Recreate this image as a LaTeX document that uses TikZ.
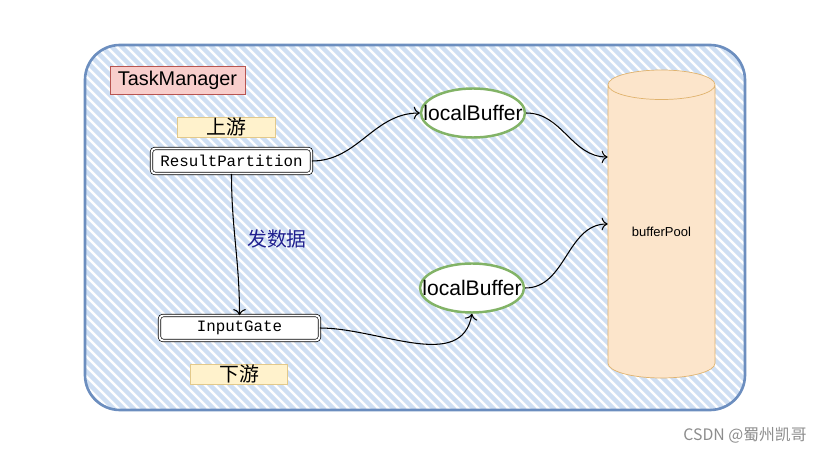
\documentclass[tikz,border=0pt]{standalone}
\usepackage{fontspec}
\setmainfont{Liberation Sans}
\setmonofont{Liberation Mono}
\newfontfamily\cjk{Noto Sans CJK SC}
\usepackage{tikz}
\usetikzlibrary{positioning}
\usetikzlibrary{arrows.meta}
\usetikzlibrary{shapes.geometric}

\definecolor{frameblue}{HTML}{6C8EBF}
\definecolor{hatchblue}{HTML}{CFDFF3}
\definecolor{tmred}{HTML}{B85450}
\definecolor{tmpink}{HTML}{F8CECC}
\definecolor{tagline}{HTML}{E3C98A}
\definecolor{tagfill}{HTML}{FFF2CC}
\definecolor{bufgreen}{HTML}{82B366}
\definecolor{poolfill}{HTML}{FCE5CB}
\definecolor{pooledge}{HTML}{E0B36E}
\definecolor{sendblue}{HTML}{1F1F8F}

\begin{document}
\begin{tikzpicture}[
    font=\small,
    % boxes and shapes
    frame/.style={rectangle, draw=frameblue, line width=1.5pt, rounded corners=0.7cm,
                  minimum width=13.2cm, minimum height=7.3cm, inner sep=0pt},
    title/.style={rectangle, draw=tmred, fill=tmpink, thin, minimum width=2.7cm,
                  minimum height=0.56cm, inner sep=0pt, font=\fontsize{11.3}{13}\selectfont},
    tag/.style={rectangle, draw=tagline, fill=tagfill, thin, minimum width=1.95cm,
                minimum height=0.4cm, inner sep=0pt, font=\cjk\fontsize{11.3}{13}\selectfont},
    comp/.style={rectangle, rounded corners=2pt, draw, double, double distance=1.1pt,
                 fill=white, minimum width=3.2cm, minimum height=0.5cm, inner sep=0pt,
                 font=\ttfamily\fontsize{9}{11}\selectfont},
    buf/.style={ellipse, draw=bufgreen, line width=1.4pt, fill=white, minimum width=2.08cm,
                minimum height=0.98cm, inner xsep=-0.26cm, inner ysep=0pt,
                font=\fontsize{12}{14}\selectfont},
    pool/.style={cylinder, shape border rotate=90, aspect=0.5, draw=pooledge, fill=poolfill,
                 minimum width=2.14cm, minimum height=6.16cm, inner sep=0pt,
                 font=\fontsize{7.4}{9}\selectfont},
    flow/.style={-{To[length=1.2mm]}, line width=0.6pt},
    hatch/.style={hatchblue, line width=2.6pt},
]
\useasboundingbox (0,0) rectangle (16.56,9.06);

% -------------------------
% TaskManager frame (hatched)
% -------------------------
\node[frame, path picture={
    \foreach \c in {0,0.2,...,20.6}
      \draw[hatch] ([xshift=\c cm]path picture bounding box.south west) -- ++(-7.3,7.3);
  }] (tm) at (8.30,4.51) {};

\node[title] (tmlabel) at (3.55,7.46) {TaskManager};

% -------------------------
% upstream / downstream
% -------------------------
\node[tag]  (up)   at (4.53,6.52) {上游};
\node[comp] (rp)   at (4.63,5.84) {ResultPartition};
\node[comp] (ig)   at (4.79,2.50) {InputGate};
\node[tag]  (down) at (4.78,1.58) {下游};

\node[font=\cjk\fontsize{11.3}{13}\selectfont, text=sendblue] (send) at (5.54,4.28) {发数据};

% -------------------------
% buffers
% -------------------------
\node[buf] (lb1) at (9.46,6.80) {localBuffer};
\node[buf] (lb2) at (9.44,3.30) {localBuffer};

\node[pool, anchor=shape center] (bp) at (13.23,4.58) {bufferPool};

\coordinate (bpin2) at (bp.shape center -| bp.west);
\coordinate (bpin1) at ([yshift=1.34cm]bpin2);

% -------------------------
% data flow
% -------------------------
\draw[flow] (rp.south) to[out=-90,in=90] (ig.north);
\draw[flow] (rp.east) to[out=0,in=180] (lb1.west);
\draw[flow] (lb1.east) to[out=0,in=180] (bpin1);
\draw[flow] (ig.east) to[out=0,in=-100] (lb2.south);
\draw[flow] (lb2.east) to[out=0,in=180] (bpin2);

\node[font=\cjk\fontsize{9}{11}\selectfont, text=black!45] (mark) at (14.90,0.36) {CSDN @蜀州凯哥};

\end{tikzpicture}
\end{document}
